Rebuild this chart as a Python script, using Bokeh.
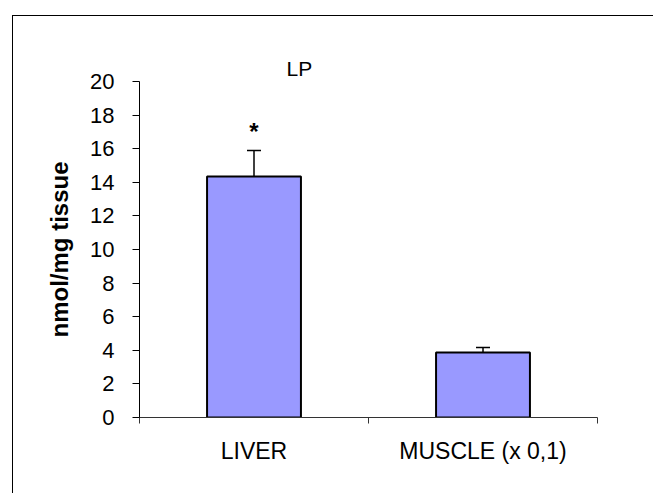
from bokeh.plotting import figure
from bokeh.models import (Range1d, FixedTicker, Whisker, TeeHead, ColumnDataSource,
                          Title, InlineStyleSheet)
from bokeh.core.properties import value
from bokeh.embed import file_html
from bokeh.resources import INLINE

# ---- data ----
categories = ["LIVER", "MUSCLE (x 0,1)"]
means = [14.35, 3.87]
errors = [1.55, 0.3]
significance = ["*", ""]
y_ticks = [0, 2, 4, 6, 8, 10, 12, 14, 16, 18, 20]
title_text = "LP"
y_label = "nmol/mg tissue"

FONT = "Liberation Sans"

xs = [i + 0.5 for i in range(len(categories))]
uppers = [m + e for m, e in zip(means, errors)]
src = ColumnDataSource(dict(x=xs, top=means, upper=uppers, base=means,
                            star=significance, star_y=[u + 1.12 for u in uppers]))

p = figure(width=653, height=493, output_backend="svg", toolbar_location=None,
           x_range=Range1d(0, len(categories)), y_range=Range1d(0, 20),
           min_border_left=139, min_border_right=56, min_border_top=81,
           min_border_bottom=76)
p.outline_line_color = None
p.xgrid.visible = False
p.ygrid.visible = False
p.background_fill_color = "white"
p.border_fill_color = "white"

p.vbar(x="x", top="top", bottom=0, width=0.41, source=src,
       fill_color="#9999FF", line_color="black", line_width=2)

w = Whisker(source=src, base="x", lower="base", upper="upper",
            line_color="black", line_width=1.5,
            upper_head=TeeHead(size=14, line_color="black", line_width=1.5),
            lower_head=None)
p.add_layout(w)

p.text(x="x", y="star_y", text="star", source=src, text_font=value(FONT),
       text_font_size="24px", text_font_style="bold", text_align="center",
       text_baseline="alphabetic", text_color="black")

# y axis
yax = p.yaxis[0]
yax.ticker = FixedTicker(ticks=y_ticks, minor_ticks=[])
yax.major_tick_out = 7
yax.major_tick_in = 0
yax.major_tick_line_color = "black"
yax.axis_line_color = "black"
yax.axis_line_width = 1
yax.major_label_text_font = FONT
yax.major_label_text_font_size = "22px"
yax.major_label_text_color = "black"
yax.major_label_standoff = 18
yax.axis_label = y_label
yax.axis_label_text_font = FONT
yax.axis_label_text_font_size = "24px"
yax.axis_label_text_font_style = "bold"
yax.axis_label_text_color = "black"
yax.axis_label_standoff = 14

# x axis: labels at category centres, ticks at category boundaries
xax = p.xaxis[0]
xax.ticker = FixedTicker(ticks=xs, minor_ticks=list(range(len(categories) + 1)))
xax.major_label_overrides = {x: c for x, c in zip(xs, categories)}
xax.major_tick_line_color = None
xax.minor_tick_out = 6
xax.minor_tick_in = 0
xax.minor_tick_line_color = "#333333"
xax.axis_line_color = "#333333"
xax.axis_line_width = 1
xax.major_label_text_font = FONT
xax.major_label_text_font_size = "23px"
xax.major_label_text_color = "black"
xax.major_label_standoff = 14

# title
p.title = Title(text=title_text, align="left", offset=147, text_font=FONT,
                text_font_size="21px", text_font_style="normal",
                text_color="black", standoff=4)

# outer chart border (only its top and left edges fall inside the picture)
p.stylesheets = [InlineStyleSheet(css="""
:host { position: relative; }
:host::after {
  content: "";
  position: absolute;
  left: 12px; top: 15px; right: 0; bottom: 0;
  border-left: 1.5px solid black;
  border-top: 1.5px solid black;
  pointer-events: none;
  z-index: 10;
}
""")]

open("out.html", "w").write(file_html(p, INLINE))
